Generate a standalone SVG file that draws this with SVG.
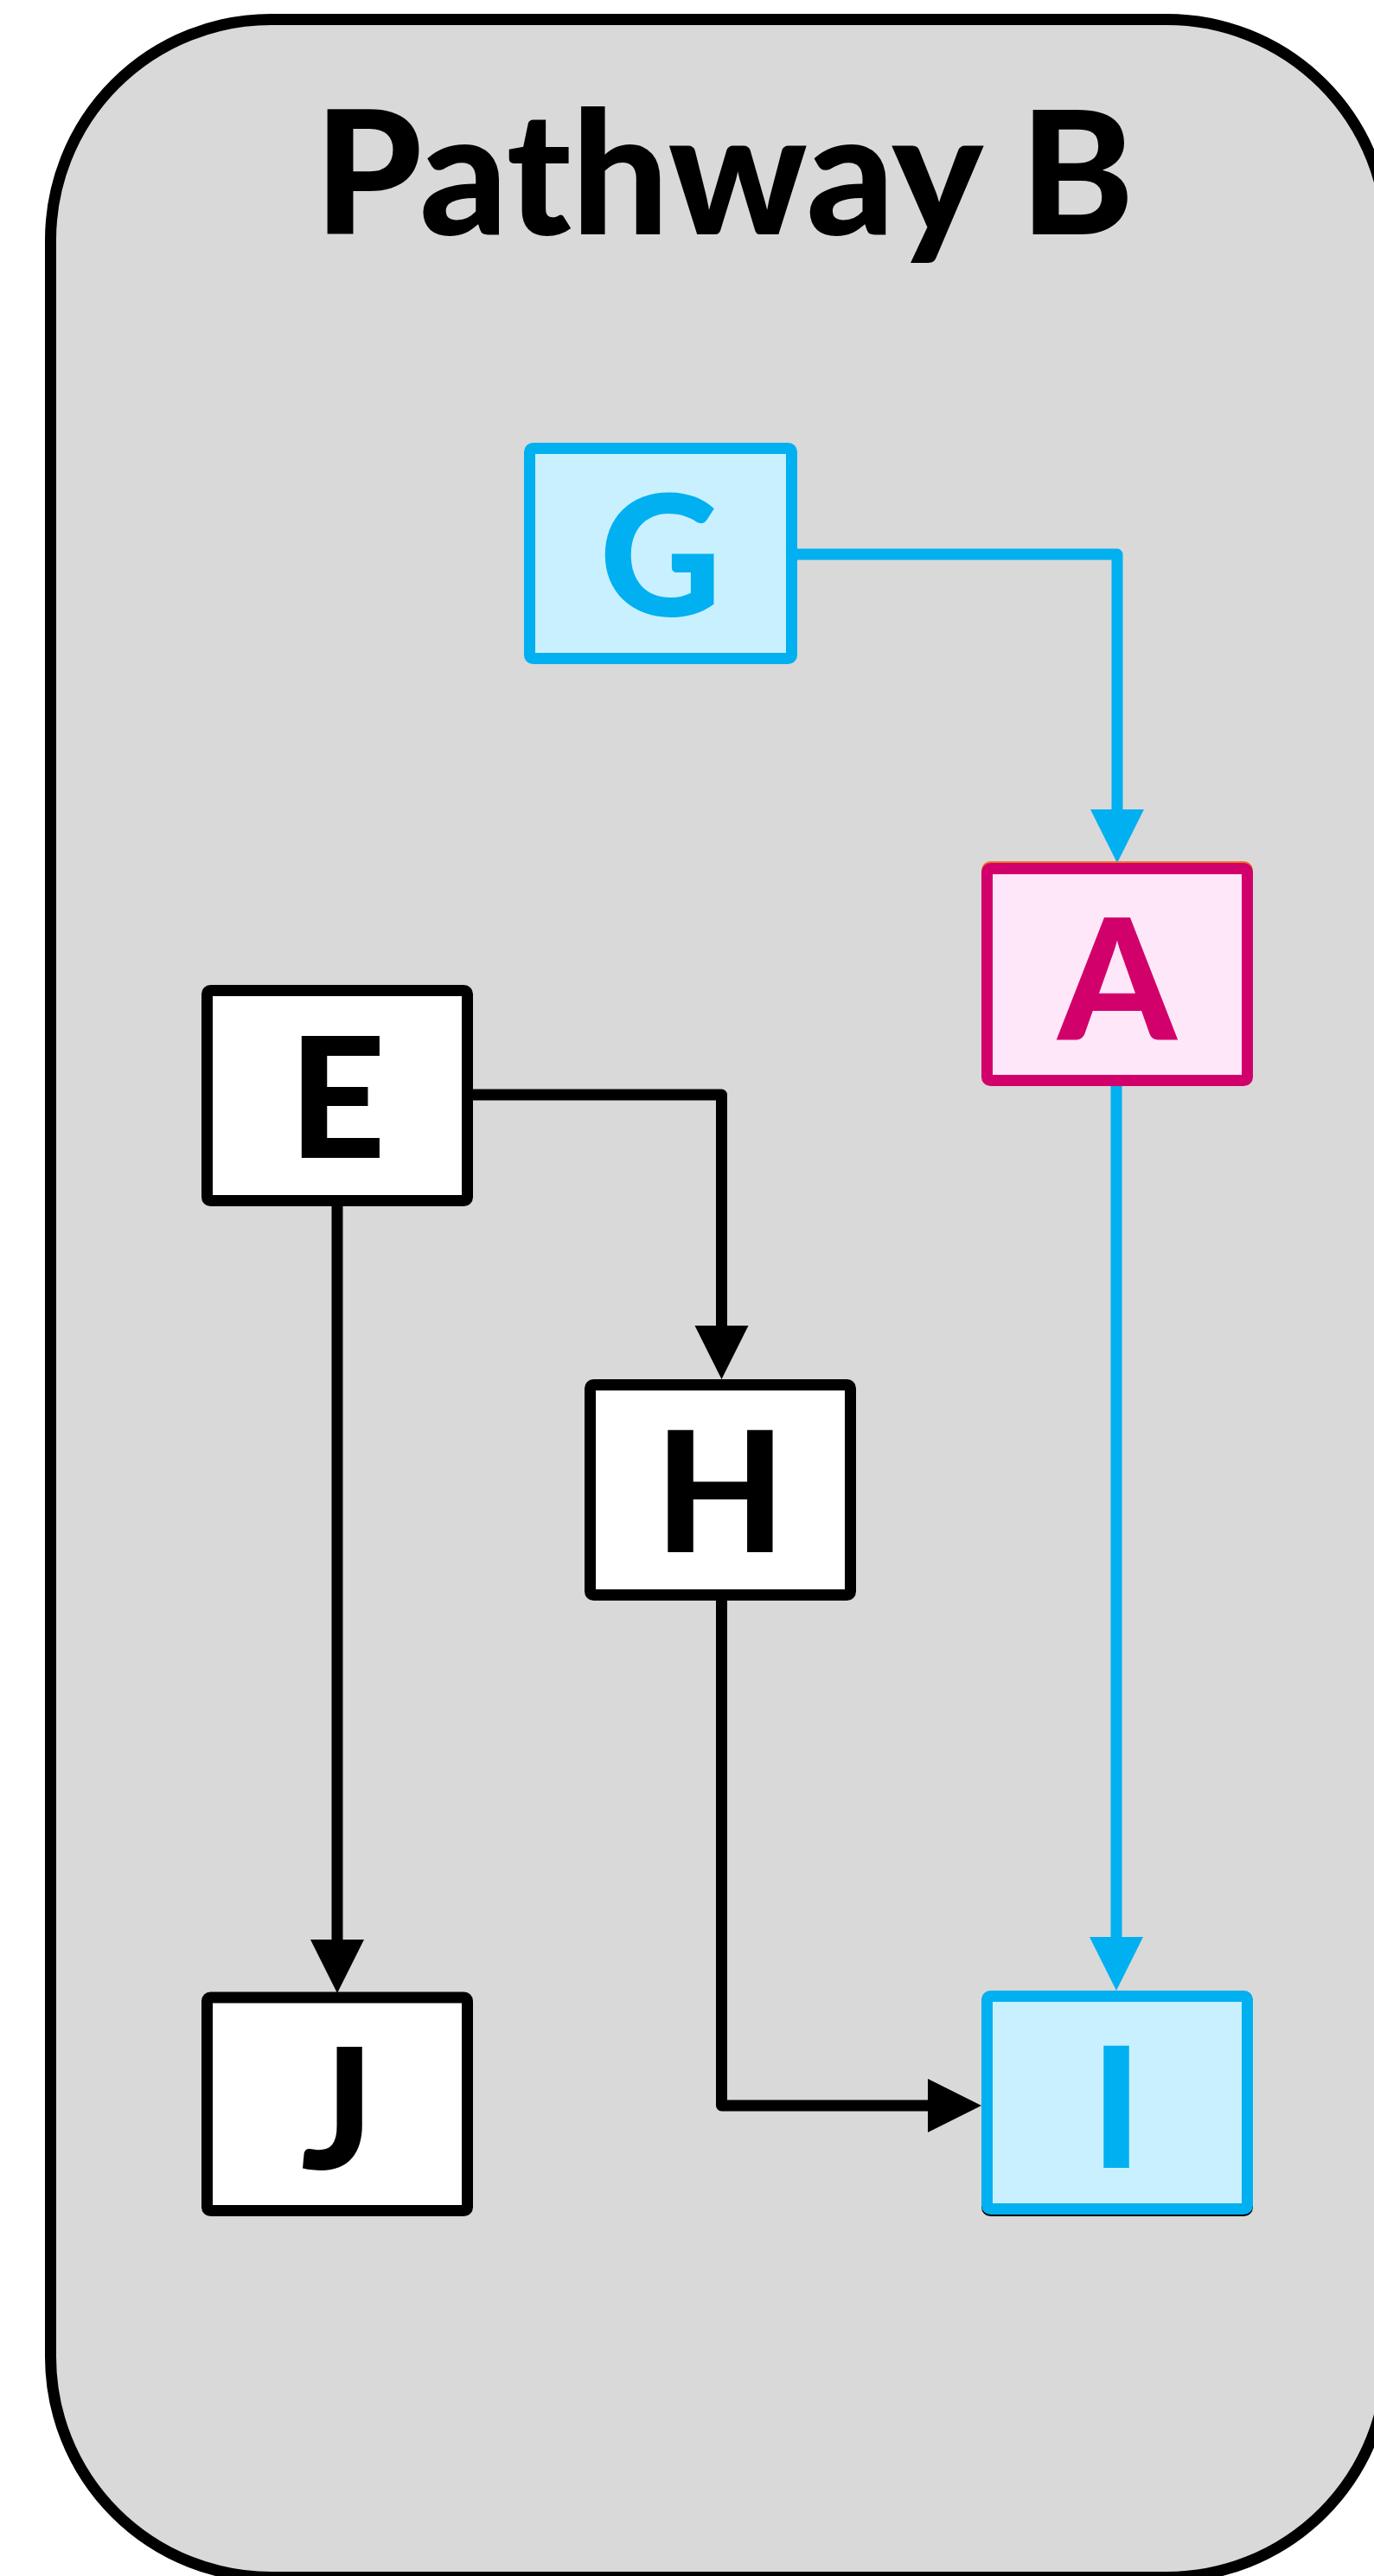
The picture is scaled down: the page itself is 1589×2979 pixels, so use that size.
<svg xmlns="http://www.w3.org/2000/svg" width="1589" height="2979" viewBox="0 0 1589 2979">
<style>
.lbl{font-family:Lato,"Noto Sans","Liberation Sans",sans-serif;font-weight:900;font-size:195px;text-anchor:middle}
.ttl{font-size:199px}
.box{stroke-width:13;stroke-linejoin:round}
.plain{fill:#FFFFFF;stroke:#000000}
.cyan{fill:#C9F0FF;stroke:#00B0F0}
.pink{fill:#FDE7F8;stroke:#D2006B}
.con{fill:none;stroke-width:13;stroke-linejoin:round}
.cb{stroke:#000000}
.cc{stroke:#00B0F0}
</style>
<defs>
<marker id="ab" viewBox="0 0 10 10" refX="0" refY="5" markerUnits="userSpaceOnUse" markerWidth="62" markerHeight="66" orient="auto"><path d="M0,0 L10,5 L0,10 z" fill="#000000"/></marker>
<marker id="ac" viewBox="0 0 10 10" refX="0" refY="5" markerUnits="userSpaceOnUse" markerWidth="62" markerHeight="66" orient="auto"><path d="M0,0 L10,5 L0,10 z" fill="#00B0F0"/></marker>
</defs>
<g id="pathway-b">
<rect x="58.5" y="22.5" width="1546" height="2958" rx="255" ry="255" fill="#D9D9D9" stroke="#000000" stroke-width="13"/>
<text class="lbl ttl" x="837.5" y="271" fill="#000000">Pathway B</text>
</g>
<g id="connectors">
<path class="con cc" d="M922,641 H1292 V936" marker-end="url(#ac)"/>
<path class="con cc" d="M1291,1256 V2240" marker-end="url(#ac)"/>
<path class="con cb" d="M547,1266 H834.5 V1533" marker-end="url(#ab)"/>
<path class="con cb" d="M390,1395 V2243" marker-end="url(#ab)"/>
<path class="con cb" d="M834.5,1851 V2435 H1073" marker-end="url(#ab)"/>
</g>
<g id="node-G">
<rect class="box cyan" x="612.5" y="518.5" width="303" height="243" rx="4"/>
<text class="lbl" x="764" y="712" fill="#00B0F0">G</text>
</g>
<g id="node-A">
<rect x="1141.5" y="1002.5" width="301" height="245" rx="4" fill="none" stroke="#F07020" stroke-width="13"/>
<rect class="box pink" x="1141.5" y="1004.5" width="301" height="245" rx="4"/>
<text class="lbl" x="1292" y="1202" fill="#D2006B">A</text>
</g>
<g id="node-E">
<rect class="box plain" x="239.5" y="1145.5" width="301" height="243" rx="4"/>
<text class="lbl" x="390" y="1339" fill="#000000">E</text>
</g>
<g id="node-H">
<rect class="box plain" x="682.5" y="1601.5" width="301" height="243" rx="4"/>
<text class="lbl" x="833" y="1795" fill="#000000">H</text>
</g>
<g id="node-J">
<rect class="box plain" x="239.5" y="2310" width="301" height="246.5" rx="4"/>
<text class="lbl" x="390" y="2508" fill="#000000">J</text>
</g>
<g id="node-I">
<rect x="1141.5" y="2310.5" width="301" height="246" rx="4" fill="none" stroke="#000000" stroke-width="13"/>
<rect class="box cyan" x="1141.5" y="2308.5" width="301" height="246" rx="4"/>
<text class="lbl" x="1291" y="2507" fill="#00B0F0">I</text>
</g>
</svg>
